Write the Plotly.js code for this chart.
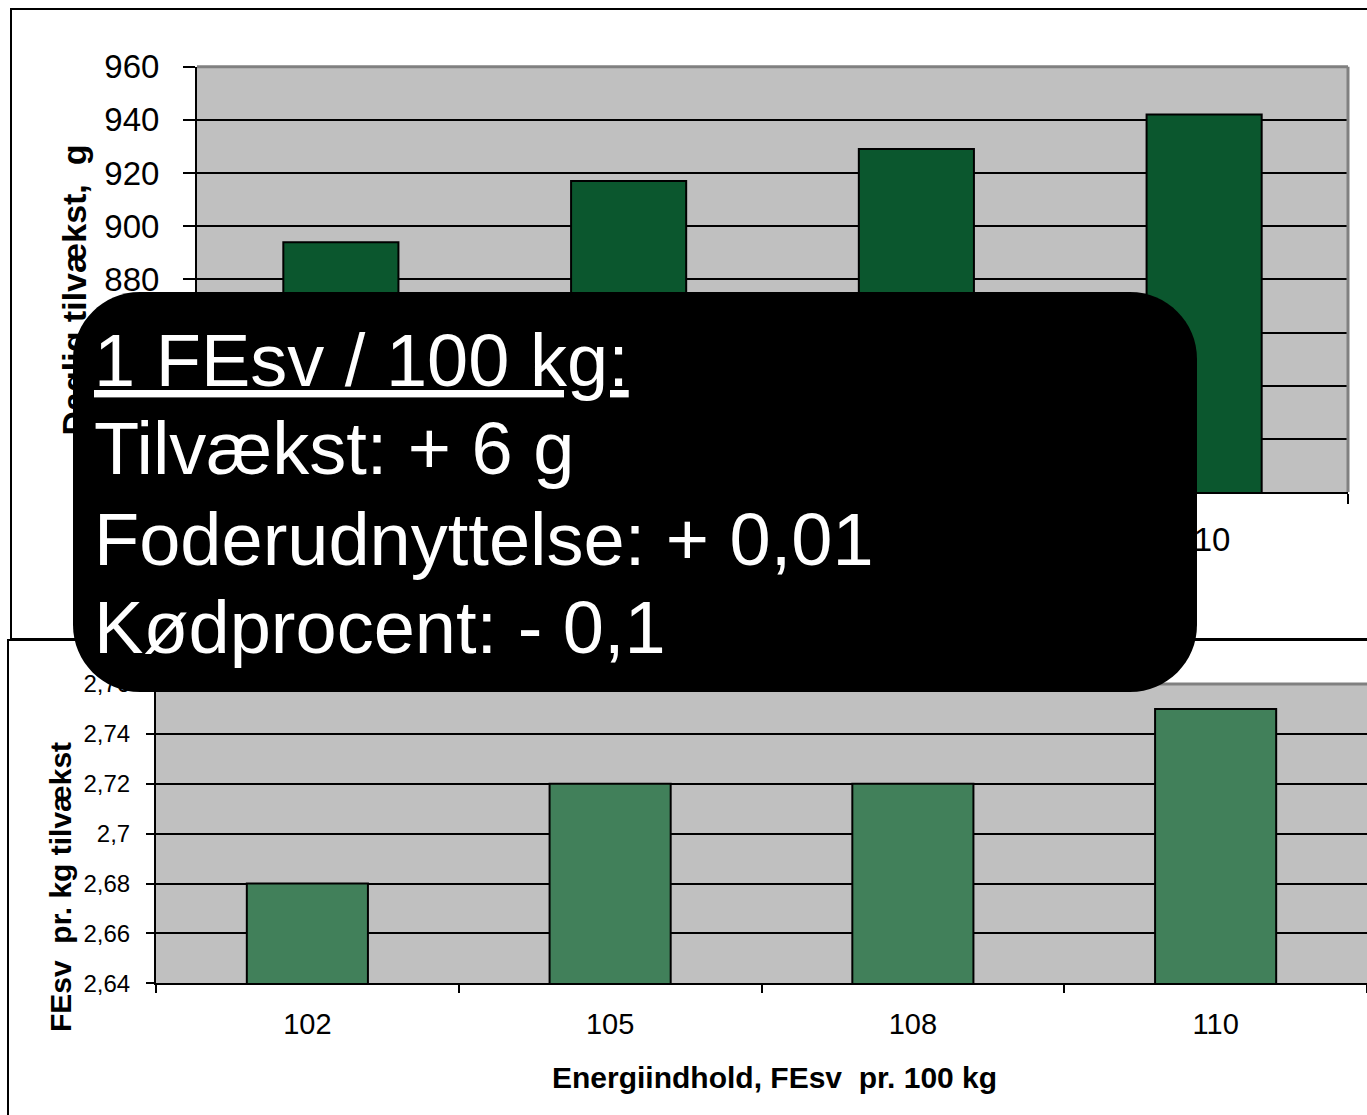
<!DOCTYPE html>
<html>
<head>
<meta charset="utf-8">
<script src="https://cdn.plot.ly/plotly-3.0.1.min.js"></script>
<style>
  html, body { margin: 0; padding: 0; background: #ffffff; }
  #chart { width: 1367px; height: 1115px; }
</style>
</head>
<body>
<div id="chart"></div>
<script>
// ---------- data ----------
const categories = ['102', '105', '108', '110'];
const dailyGain = [894, 917, 929, 942];
const feedPerKgGain = [2.68, 2.72, 2.72, 2.75];

const topYTickVals = [800, 820, 840, 860, 880, 900, 920, 940, 960];
const topYTickText = ['800', '820', '840', '860', '880', '900', '920', '940', '960'];
const bottomYTickVals = [2.64, 2.66, 2.68, 2.70, 2.72, 2.74, 2.76];
const bottomYTickText = ['2,64', '2,66', '2,68', '2,7', '2,72', '2,74', '2,76'];

const topYTitle = 'Daglig tilvækst,\u00a0 g';
const bottomYTitle = 'FEsv\u00a0 pr. kg tilvækst';
const bottomXTitle = 'Energiindhold, FEsv\u00a0 pr. 100 kg';
const overlayLines = ['<u>1 FEsv / 100 kg:</u>', 'Tilvækst: + 6 g', 'Foderudnyttelse: + 0,01', 'Kødprocent: - 0,1'];

// ---------- geometry helpers (pixels -> paper) ----------
const W = 1367, H = 1115;
const X = px => px / W;
const Y = py => 1 - py / H;
const FONT = 'Liberation Sans, Arial, sans-serif';

function roundRectPath(x0, y0, x1, y1, r) {
  const k = 0.5523 * r;
  const p = (a, b) => X(a).toFixed(5) + ',' + Y(b).toFixed(5);
  return 'M' + p(x0 + r, y0) +
    ' L' + p(x1 - r, y0) +
    ' C' + p(x1 - r + k, y0) + ' ' + p(x1, y0 + r - k) + ' ' + p(x1, y0 + r) +
    ' L' + p(x1, y1 - r) +
    ' C' + p(x1, y1 - r + k) + ' ' + p(x1 - r + k, y1) + ' ' + p(x1 - r, y1) +
    ' L' + p(x0 + r, y1) +
    ' C' + p(x0 + r - k, y1) + ' ' + p(x0, y1 - r + k) + ' ' + p(x0, y1 - r) +
    ' L' + p(x0, y0 + r) +
    ' C' + p(x0, y0 + r - k) + ' ' + p(x0 + r - k, y0) + ' ' + p(x0 + r, y0) + ' Z';
}

// ---------- traces ----------
const traces = [
  {
    type: 'bar', x: categories, y: dailyGain, xaxis: 'x', yaxis: 'y',
    marker: { color: '#0B572E', line: { color: '#000000', width: 2 } },
    hoverinfo: 'skip'
  },
  {
    type: 'bar', x: categories, y: feedPerKgGain, xaxis: 'x2', yaxis: 'y2',
    marker: { color: '#41805A', line: { color: '#000000', width: 2 } },
    hoverinfo: 'skip'
  }
];

const axisCommon = {
  showline: true, linecolor: '#000000', linewidth: 2,
  ticks: 'outside', tickcolor: '#000000', tickwidth: 2,
  zeroline: false, fixedrange: true
};

const layout = {
  width: W, height: H,
  margin: { l: 0, r: 0, t: 0, b: 0, pad: 0 },
  paper_bgcolor: '#ffffff',
  plot_bgcolor: '#C0C0C0',
  showlegend: false,
  bargap: 0.6,
  font: { family: FONT, color: '#000000' },
  xaxis: Object.assign({}, axisCommon, {
    domain: [X(197), X(1348)], anchor: 'y', type: 'category',
    tickson: 'boundaries', ticklen: 10, showgrid: false,
    tickfont: { family: FONT, size: 33, color: '#000000' },
    ticklabelstandoff: 17
  }),
  yaxis: Object.assign({}, axisCommon, {
    domain: [Y(492), Y(66.7)], anchor: 'x', range: [800, 960],
    tickmode: 'array', tickvals: topYTickVals, ticktext: topYTickText,
    ticklen: 12, showgrid: true, gridcolor: '#000000', gridwidth: 2,
    tickfont: { family: FONT, size: 33, color: '#000000' },
    ticklabelstandoff: 17
  }),
  xaxis2: Object.assign({}, axisCommon, {
    domain: [X(156), 1], anchor: 'y2', type: 'category',
    tickson: 'boundaries', ticklen: 8, showgrid: false,
    tickfont: { family: FONT, size: 29, color: '#000000' },
    ticklabelstandoff: 14
  }),
  yaxis2: Object.assign({}, axisCommon, {
    domain: [Y(983.3), Y(684)], anchor: 'x2', range: [2.64, 2.76],
    tickmode: 'array', tickvals: bottomYTickVals, ticktext: bottomYTickText,
    ticklen: 8, showgrid: true, gridcolor: '#000000', gridwidth: 2,
    tickfont: { family: FONT, size: 24, color: '#000000' },
    ticklabelstandoff: 11
  }),
  shapes: [
    // outer frame of the upper chart
    { type: 'rect', xref: 'paper', yref: 'paper', layer: 'above',
      x0: X(11), x1: X(1400), y0: Y(639), y1: Y(9),
      line: { color: '#000000', width: 2 }, fillcolor: 'rgba(0,0,0,0)' },
    // outer frame of the lower chart
    { type: 'rect', xref: 'paper', yref: 'paper', layer: 'above',
      x0: X(8), x1: X(1400), y0: Y(1130), y1: Y(640),
      line: { color: '#000000', width: 2 }, fillcolor: 'rgba(0,0,0,0)' },
    // grey plot-area borders (top/right)
    { type: 'line', xref: 'x domain', yref: 'y domain', layer: 'above',
      x0: 0, x1: 1, y0: 1, y1: 1, line: { color: '#808080', width: 3 } },
    { type: 'line', xref: 'x domain', yref: 'y domain', layer: 'above',
      x0: 1, x1: 1, y0: 0, y1: 1, line: { color: '#808080', width: 3 } },
    { type: 'line', xref: 'x2 domain', yref: 'y2 domain', layer: 'above',
      x0: 0, x1: 1, y0: 1, y1: 1, line: { color: '#808080', width: 3 } },
    // upper chart y-axis title (kept beneath the overlay box)
    { type: 'rect', xref: 'paper', yref: 'paper', layer: 'above',
      x0: X(38), x1: X(104), y0: Y(480), y1: Y(100),
      line: { width: 0 }, fillcolor: 'rgba(0,0,0,0)',
      label: { text: topYTitle, textangle: -90, textposition: 'middle center',
               font: { family: FONT, size: 34, color: '#000000', weight: 'bold' } } },
    // black rounded overlay box
    { type: 'path', xref: 'paper', yref: 'paper', layer: 'above',
      path: roundRectPath(73, 292, 1197, 692, 67),
      fillcolor: '#000000', line: { width: 0 } }
  ],
  annotations: []
};

// overlay text lines
const lineCentersPx = [360, 449, 539, 627];
overlayLines.forEach((t, i) => {
  layout.annotations.push({
    xref: 'paper', yref: 'paper', x: X(92), y: Y(lineCentersPx[i]),
    xanchor: 'left', yanchor: 'middle', showarrow: false, align: 'left',
    text: t, font: { family: FONT, size: 74, color: '#ffffff' }
  });
});

// lower chart axis titles
layout.annotations.push({
  xref: 'paper', yref: 'paper', x: X(60), y: Y(887),
  xanchor: 'center', yanchor: 'middle', showarrow: false, textangle: -90,
  text: '<b>' + bottomYTitle + '</b>', font: { family: FONT, size: 30, color: '#000000' }
});
layout.annotations.push({
  xref: 'paper', yref: 'paper', x: X(774), y: Y(1077),
  xanchor: 'center', yanchor: 'middle', showarrow: false,
  text: '<b>' + bottomXTitle + '</b>', font: { family: FONT, size: 30, color: '#000000' }
});

Plotly.newPlot('chart', traces, layout, { staticPlot: true, displayModeBar: false });
</script>
</body>
</html>
